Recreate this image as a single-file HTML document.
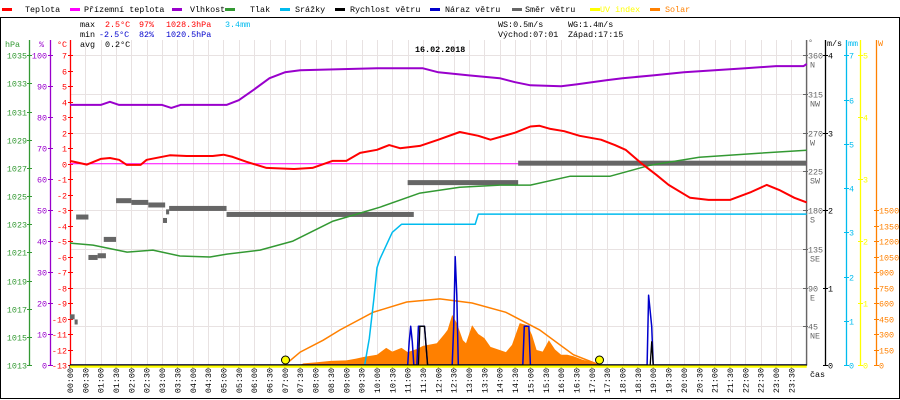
<!DOCTYPE html>
<html><head><meta charset="utf-8"><style>
html,body{margin:0;padding:0;background:#fff;width:900px;height:400px;overflow:hidden}
svg{display:block}
text{font-family:"Liberation Mono",monospace;font-size:8.4px}
</style></head><body>
<svg id="c" width="900" height="400" viewBox="0 0 900 400"></svg>
<script>
// ---- data ----
const tempT=[0,0.55,1.0,1.3,1.6,1.85,2.3,2.5,3.25,3.8,4.65,5.0,5.3,5.75,6.4,7.3,7.9,8.55,9.0,9.45,10.0,10.4,10.75,11.4,12.0,12.7,13.3,13.7,14.5,15.0,15.3,15.65,16.1,16.6,17.3,17.75,18.1,18.6,19.1,19.5,20.2,20.8,21.5,22.2,22.7,23.1,23.6,24];
const tempV=[0.18,-0.06,0.31,0.37,0.25,-0.08,-0.08,0.25,0.54,0.5,0.5,0.58,0.44,0.12,-0.27,-0.34,-0.27,0.18,0.18,0.7,0.9,1.2,1.0,1.15,1.55,2.05,1.8,1.55,2.0,2.4,2.45,2.25,2.1,1.8,1.55,1.2,0.9,0.05,-0.72,-1.37,-2.2,-2.34,-2.34,-1.82,-1.37,-1.69,-2.2,-2.5];
const humT=[0,1.0,1.3,1.6,3.0,3.3,3.6,5.1,5.5,6.0,6.5,7.0,7.5,10.0,11.5,12.0,13.0,14.0,14.5,15.0,16.0,16.5,17.0,17.5,18.0,19.0,20.0,21.0,22.0,23.0,23.9,24];
const humV=[84,84,85,84,84,83,84,84,85.5,89,92.6,94.5,95.2,95.8,95.8,94.5,93.5,92.6,91.3,90.3,90,90.6,91.3,92,92.6,93.5,94.5,95.2,95.8,96.5,96.5,97.2];
const presT=[0,0.75,1.86,2.7,3.58,4.56,5.11,6.19,7.26,8.57,9.45,10.1,11.4,12.7,14.0,15.0,16.3,17.6,18.9,20.5,22.5,24];
const presV=[1021.66,1021.52,1021.02,1021.16,1020.74,1020.67,1020.88,1021.16,1021.8,1023.22,1023.79,1024.21,1025.21,1025.63,1025.78,1025.78,1026.41,1026.41,1027.19,1027.76,1028.05,1028.26];
const rainT=[9.6,9.75,9.9,10.0,10.1,10.4,10.5,10.8,13.2,13.3,24];
const rainV=[0,0.6,1.5,2.2,2.4,2.85,3.0,3.18,3.18,3.41,3.41];
const dirStart=[0,0.15,0.2,0.6,0.9,1.1,1.5,2.0,2.55,3.03,3.13,3.23,5.1,11.0,14.6];
const dirEnd=[0.15,0.25,0.6,0.9,1.17,1.5,2.0,2.55,3.1,3.16,3.23,5.1,11.2,14.6,24];
const dirV=[56,50,172,125,127,146,191,189,186,168,178,182,175,212,234.6];
const gustT=[0,11.0,11.05,11.1,11.15,11.2,11.3,11.35,11.55,11.65,12.45,12.5,12.55,12.6,12.65,14.75,14.8,14.95,15.0,18.8,18.85,18.95,19.0,24];
const gustV=[0,0,0.3,0.5,0.3,0,0,0.5,0.5,0,0,0.5,1.4,0.9,0,0,0.5,0.5,0,0,0.9,0.5,0,0];
const windT=[0,11.35,11.4,11.55,11.65,18.9,18.95,19.0,24];
const windV=[0,0,0.5,0.5,0,0,0.3,0,0];
const solT=[7.5,7.6,8.0,8.5,9.0,9.3,9.6,10.0,10.3,10.5,10.8,11.0,11.3,11.5,11.95,12.2,12.3,12.45,12.6,12.8,12.9,13.1,13.3,13.5,13.7,14.0,14.2,14.4,14.65,14.9,15.05,15.2,15.4,15.6,15.8,16.0,16.2,16.4,16.7,17.0,17.2];
const solV=[0,15,25,40,45,60,80,100,165,130,165,125,155,185,210,300,340,485,405,240,210,385,300,260,175,145,125,195,405,385,290,145,130,240,150,100,100,85,50,30,0];
const solMaxT=[7.0,7.5,8.25,8.8,9.87,10.97,12.05,13.1,14.2,15.3,16.4,17.25];
const solMaxV=[0,125,240,340,510,610,640,600,510,340,100,0];
const hPaTicks=[1035,1033,1031,1029,1027,1025,1023,1021,1019,1017,1015,1013];
const pctTicks=[100,90,80,70,60,50,40,30,20,10,0];
const degTicks=[360,315,270,225,180,135,90,45];
const degNames=["N","NW","W","SW","S","SE","E","NE"];
const msTicks=[0,1,2,3,4];
const mmTicks=[0,1,2,3,4,5,6,7];
const uvTicks=[0,1,2,3,4,5];
const wTicks=[0,150,300,450,600,750,900,1050,1200,1350,1500];
const sunTimes=[7.02,17.25];

// ---- scales ----
const X0=70,X1=806.7,Y0=55.3,Y1=365,H=Y1-Y0;
const xS=h=>X0+h/24*(X1-X0);
const tY=v=>Y1-(v+13)/20*H;
const hY=v=>Y1-v/100*H;
const pY=v=>Y1-(v-1013)/22*H;
const dY=v=>Y1-v/360*H;
const wY=v=>Y1-v/4*H;
const rY=v=>Y1-v/7*H;
const uY=v=>Y1-v/5*H;
const sY=v=>Y1-v/1500*155;

const svg=document.getElementById('c');
const NS='http://www.w3.org/2000/svg';
function mk(tag,at,parent){const e=document.createElementNS(NS,tag);for(const k in at)e.setAttribute(k,at[k]);(parent||svg).appendChild(e);return e;}
function txt(x,y,s,fill,anchor,extra){const e=mk('text',Object.assign({x:x,y:y,fill:fill||'#000','text-anchor':anchor||'start'},extra||{}));e.textContent=s;return e;}

// frame
let e;
e=mk('path',{d:'M0.5 17.5H899.5M0.5 17V398.5H899.5V17',stroke:'#000',fill:'none'});



// grid
const grid=mk('g',{stroke:'#e8e2e2','stroke-width':1});


for(let i=1;i<=48;i++){const x=Math.round(xS(i/2))+0.5;mk('line',{x1:x,x2:x,y1:40,y2:Y1},grid);}
for(let i=0;i<8;i++){const y=Math.round(Y0+i*H/8)+0.5;mk('line',{x1:X0,x2:X1,y1:y,y2:y},grid);}

// legend
const legItems=[["Teplota","#ff0000",2,25],["Přízemní teplota","#ff00ff",70,84],["Vlhkost","#9900cc",172,190],["Tlak","#339933",225,250],["Srážky","#00bbee",280,295],["Rychlost větru","#000000",335,350],["Náraz větru","#0000cc",430,445],["Směr větru","#666666",512,525],["UV index","#ffff00",590,600],["Solar","#ff8000",650,665]];
legItems.forEach(it=>{
  const g=mk('g',{});
  
  
  mk('rect',{x:it[2],y:8,width:10,height:3,fill:it[1]},g);
  const t=txt(it[3],12,it[0],(it[0]=='UV index'||it[0]=='Solar')?it[1]:'#000','start');g.appendChild(t);
});

// header stats
const hdr=[[80,27,"max","#000"],[105,27,"2.5°C","#ff0000"],[139,27,"97%","#ff0000"],[166,27,"1028.3hPa","#ff0000"],[225,27,"3.4mm","#00bbee"],
[80,37,"min","#000"],[99,37,"-2.5°C","#0000cc"],[139,37,"82%","#0000cc"],[166,37,"1020.5hPa","#0000cc"],
[80,47,"avg","#000"],[105,47,"0.2°C","#000"],
[498,27,"WS:0.5m/s","#000"],[568,27,"WG:1.4m/s","#000"],[498,37,"Východ:07:01","#000"],[568,37,"Západ:17:15","#000"]];
hdr.forEach(h=>{const t=txt(h[0],h[1],h[2],h[3]);});
e=txt(415,52,"16.02.2018","#000","start",{'font-weight':'bold','font-size':'12px'});



// axes helper
function axis(name,x,color,vals,yf,lblX,anchor,top){
  const g=mk('g',{});
  
  
  mk('line',{x1:x+0.5,x2:x+0.5,y1:top,y2:Y1+1,stroke:color,'stroke-width':1.3},g);
  vals.forEach(v=>{const y=Math.round(yf(v))+0.5;mk('line',{x1:x-2,x2:x+3,y1:y,y2:y,stroke:color},g);const t=txt(lblX,y+3,String(v),color,anchor);g.appendChild(t);});
  return g;
}
axis('hpa-axis',29,'#339933',hPaTicks,pY,27,'end',40);
axis('humidity-axis',50,'#9900cc',pctTicks,hY,47,'end',40);
const cT=[];for(let v=7;v>=-13;v--)cT.push(v);
axis('temperature-axis',70,'#ff0000',cT,tY,67,'end',40);
axis('wind-speed-axis',825,'#000',msTicks,wY,828,'start',40);
axis('rain-axis',846,'#00bbee',mmTicks,rY,849,'start',40);
axis('uv-axis',860,'#ffff00',uvTicks,uY,863,'start',40);
axis('solar-axis',876,'#ff8000',[],sY,879,'start',40);
const sg=mk('g',{});


wTicks.forEach(v=>{const y=Math.round(sY(v))+0.5;mk('line',{x1:874,x2:879,y1:y,y2:y,stroke:'#ff8000'},sg);sg.appendChild(txt(879,y+3,String(v),'#ff8000'));});
// direction axis
const dg=mk('g',{});


mk('line',{x1:806.5,x2:806.5,y1:40,y2:Y1+1,stroke:'#666','stroke-width':1.3},dg);
degTicks.forEach((v,i)=>{const y=Math.round(dY(v))+0.5;mk('line',{x1:803,x2:808,y1:y,y2:y,stroke:'#666'},dg);dg.appendChild(txt(808,y+3,String(v),'#666'));dg.appendChild(txt(810,y+12,degNames[i],'#666'));});
// units
[[5,47,"hPa","#339933"],[39,47,"%","#9900cc"],[57,47,"°C","#ff0000"],[808,45,"°","#666"],[827,46,"m/s","#000"],[848,46,"mm","#00bbee"],[878,46,"W","#ff8000"],[810,377,"čas","#000"]].forEach(u=>{const t=txt(u[0],u[1],u[2],u[3]);});

// x labels
for(let i=0;i<48;i++){
  const h=Math.floor(i/2),m=i%2?'30':'00';
  const s=(h<10?'0':'')+h+':'+m;
  const x=xS(i/2);
  mk('line',{x1:x,x2:x,y1:Y1,y2:Y1+3,stroke:'#000'});
  const t=txt(0,0,s,'#000','end',{transform:'translate('+(x+3)+',368) rotate(-90)'});
  
  
}

function pts(T,V,yf){return T.map((t,i)=>xS(t).toFixed(1)+','+yf(V[i]).toFixed(1)).join(' ');}

// solar fill
e=mk('polygon',{points:xS(solT[0])+','+Y1+' '+pts(solT,solV,sY)+' '+xS(solT[solT.length-1])+','+Y1,fill:'#ff8000'});


e=mk('polyline',{points:pts(solMaxT,solMaxV,sY),fill:'none',stroke:'#ff8000','stroke-width':1.5});



// zero line
e=mk('line',{x1:X0,x2:X1,y1:tY(0),y2:tY(0),stroke:'#ff00ff','stroke-width':1});



// wind direction
dirV.forEach((v,i)=>{
  const r=mk('rect',{x:xS(dirStart[i]),y:dY(v)-2.5,width:Math.max(2,xS(dirEnd[i])-xS(dirStart[i])),height:5,fill:'#666'});
  
  
});

function line(name,T,V,yf,col,w){const p=mk('polyline',{points:pts(T,V,yf),fill:'none',stroke:col,'stroke-width':w,'stroke-linejoin':'round'});}
line('pressure-line',presT,presV,pY,'#339933',1.5);
line('humidity-line',humT,humV,hY,'#9900cc',2);
line('temperature-line',tempT,tempV,tY,'#ff0000',2);
line('rain-line',rainT,rainV,rY,'#00bbee',1.5);
line('gust-line',gustT,gustV,wY,'#0000cc',1.5);
line('wind-speed-line',windT,windV,wY,'#000',1.3);

// baseline
e=mk('line',{x1:X0,x2:X1,y1:Y1+1.5,y2:Y1+1.5,stroke:'#ffff00','stroke-width':2.5});


e=mk('line',{x1:X0,x2:X1,y1:Y1,y2:Y1,stroke:'#000','stroke-width':1});


sunTimes.forEach(t=>{const c=mk('circle',{cx:xS(t),cy:Y1-5,r:4,fill:'#ffff00',stroke:'#000','stroke-width':1});});
</script>
</body></html>
